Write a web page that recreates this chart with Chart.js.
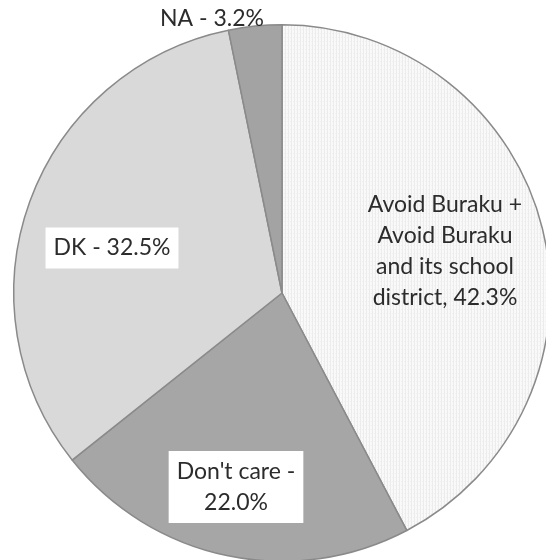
<!DOCTYPE html>
<html>
<head>
<meta charset="utf-8">
<script src="https://cdn.jsdelivr.net/npm/chart.js@4.4.1/dist/chart.umd.min.js"></script>
<style>
  html, body { margin: 0; padding: 0; background: #fff; overflow: hidden; }
  #wrap { position: absolute; left: 0; top: 0; width: 551px; height: 562px; }
</style>
</head>
<body>
<div id="wrap"><canvas id="pie"></canvas></div>
<script>
const categories = ["Avoid Buraku + Avoid Buraku and its school district", "Don't care", "DK", "NA"];
const shares = [42.3, 22.0, 32.5, 3.2];

// label layout: separator before the value, offset of the text block from the pie centre,
// wrap width and whether a white box goes behind it
const labelSep = [", ", " - ", " - ", " - "];
const labelOffset = [[163, -42], [-46, 194], [-170, -45], [-70, -274]];
const labelWrap = [170, 128, 400, 400];
const labelBox = [false, true, true, false];

const FONT = "23px Lato";
const LINE_H = 31;

// faint striped fill used for the largest slice
function stripePattern() {
    const c = document.createElement("canvas");
    c.width = 3; c.height = 4;
    const g = c.getContext("2d");
    g.fillStyle = "#f9f9f9";
    g.fillRect(0, 0, 3, 4);
    g.fillStyle = "#ececec";
    g.fillRect(0, 0, 1, 4);
    g.fillStyle = "#f0f0f0";
    g.fillRect(2, 1, 1, 1);
    return g.createPattern(c, "repeat");
}

function wrapText(ctx, text, maxW) {
    const words = text.split(" ");
    const lines = [];
    let cur = "";
    words.forEach(w => {
        const test = cur ? cur + " " + w : w;
        if (cur && ctx.measureText(test).width > maxW) {
            lines.push(cur);
            cur = w;
        } else {
            cur = test;
        }
    });
    if (cur) lines.push(cur);
    return lines;
}

const sliceLabels = {
    id: "sliceLabels",
    afterDatasetsDraw(chart) {
        const ctx = chart.ctx;
        const arcs = chart.getDatasetMeta(0).data;
        ctx.save();
        ctx.font = FONT;
        ctx.textAlign = "center";
        ctx.textBaseline = "middle";
        arcs.forEach((arc, i) => {
            const text = categories[i] + labelSep[i] + shares[i].toFixed(1) + "%";
            const lines = wrapText(ctx, text, labelWrap[i]);
            const cx = arc.x + labelOffset[i][0];
            const cy = arc.y + labelOffset[i][1];
            const h = lines.length * LINE_H;
            if (labelBox[i]) {
                const w = Math.max(...lines.map(l => ctx.measureText(l).width));
                ctx.fillStyle = "#ffffff";
                ctx.fillRect(cx - w / 2 - 8, cy - h / 2 - 5, w + 16, h + 10);
            }
            ctx.fillStyle = "#2c2c2c";
            lines.forEach((l, k) => {
                ctx.fillText(l, cx, cy - h / 2 + LINE_H / 2 + k * LINE_H);
            });
        });
        ctx.restore();
    }
};

new Chart(document.getElementById("pie"), {
    type: "pie",
    data: {
        labels: categories,
        datasets: [{
            data: shares,
            backgroundColor: [stripePattern(), "#a6a6a6", "#d9d9d9", "#a3a3a3"],
            borderColor: "#8a8a8a",
            borderWidth: 1.5
        }]
    },
    options: {
        responsive: true,
        maintainAspectRatio: false,
        animation: false,
        layout: { padding: { left: 13, top: 24, right: 0, bottom: 0 } },
        plugins: {
            legend: { display: false },
            tooltip: { enabled: false }
        }
    },
    plugins: [sliceLabels]
});
</script>
</body>
</html>
